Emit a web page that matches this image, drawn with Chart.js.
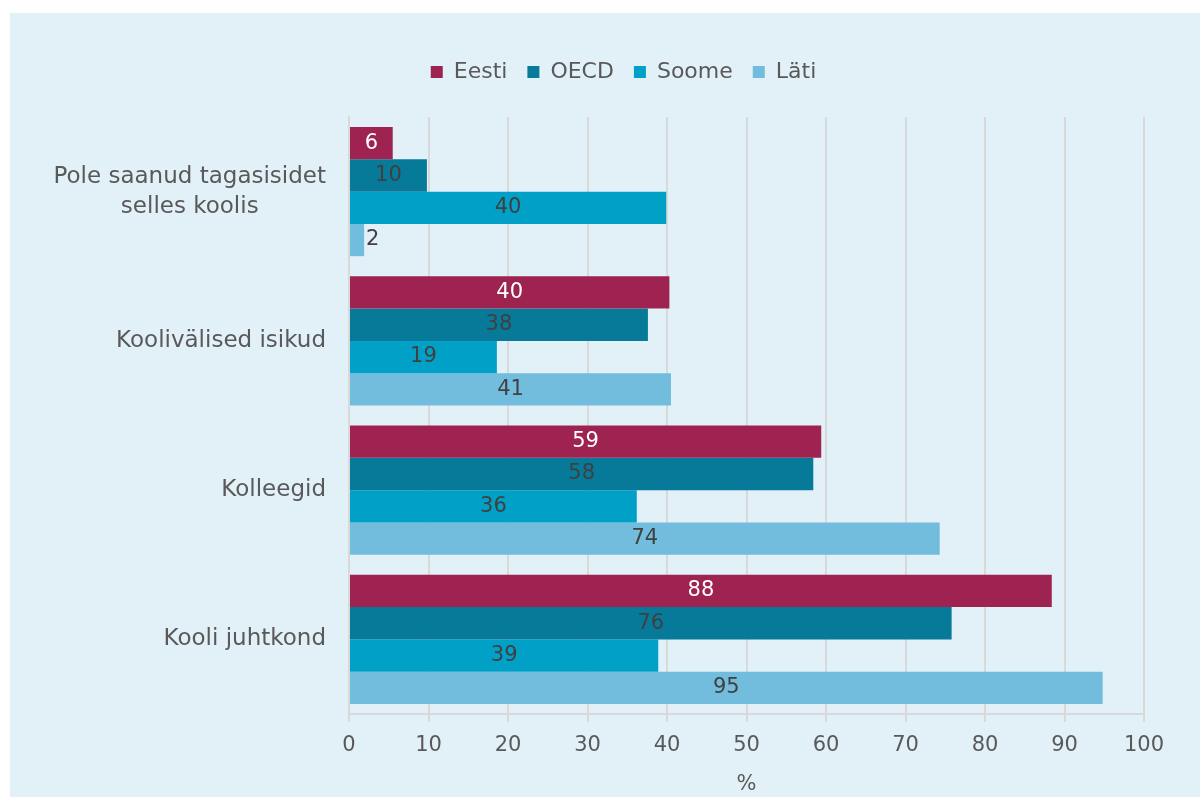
<!DOCTYPE html>
<html>
<head>
<meta charset="utf-8">
<script src="https://cdn.jsdelivr.net/npm/chart.js@4.4.1/dist/chart.umd.min.js"></script>
<style>
  html, body { margin: 0; padding: 0; background: #ffffff; }
  #panel {
    position: absolute;
    left: 10px;
    top: 13px;
    width: 1190px;
    height: 784px;
    background: #e2f0f8;
  }
</style>
</head>
<body>
<div id="panel"><canvas id="chart" width="1190" height="784"></canvas></div>
<script>
const categories = [
  ["Pole saanud tagasisidet", "selles koolis"],
  "Koolivälised isikud",
  "Kolleegid",
  "Kooli juhtkond",
];
const seriesNames = ["Eesti", "OECD", "Soome", "Läti"];
const eesti = [5.5, 40.3, 59.4, 88.4];
const oecd = [9.8, 37.6, 58.4, 75.8];
const soome = [39.9, 18.6, 36.2, 38.9];
const lati = [1.9, 40.5, 74.3, 94.8];
const xTickValues = [0, 10, 20, 30, 40, 50, 60, 70, 80, 90, 100];
const xTitle = "%";

const colors = ["#9f2350", "#077a9a", "#00a0c7", "#72bddd"];
const textColor = "#595959";
const gridColor = "#d9d9d9";
const fontFamily = "'DejaVu Sans', sans-serif";

Chart.defaults.font.family = fontFamily;
Chart.defaults.color = textColor;

// force the legend to a fixed height so the plot top lines up
const legendHeight = {
  id: "legendHeight",
  beforeInit(chart) {
    const fit = chart.legend.fit;
    chart.legend.fit = function () {
      fit.call(this);
      this.height = 76;
    };
  },
};

// category labels: block right aligned, lines centred on each other
const categoryLabels = {
  id: "categoryLabels",
  afterDraw(chart) {
    const scale = chart.scales.y;
    const ctx = chart.ctx;
    ctx.save();
    ctx.font = "23px " + fontFamily;
    ctx.fillStyle = textColor;
    ctx.textAlign = "center";
    ctx.textBaseline = "middle";
    const right = scale.right - 23;
    const lineHeight = 30;
    chart.data.labels.forEach((label, i) => {
      const lines = [].concat(label);
      const width = Math.max(...lines.map((l) => ctx.measureText(l).width));
      const cx = right - width / 2;
      const cy = scale.getPixelForTick(i);
      lines.forEach((line, j) => {
        ctx.fillText(line, cx, cy + (j - (lines.length - 1) / 2) * lineHeight);
      });
    });
    ctx.restore();
  },
};

const barValueLabels = {
  id: "barValueLabels",
  afterDatasetsDraw(chart) {
    const ctx = chart.ctx;
    ctx.save();
    ctx.font = "21px " + fontFamily;
    ctx.textBaseline = "middle";
    chart.data.datasets.forEach((ds, di) => {
      const meta = chart.getDatasetMeta(di);
      meta.data.forEach((bar, i) => {
        const text = String(Math.round(ds.data[i]));
        const w = ctx.measureText(text).width;
        const len = bar.x - bar.base;
        if (len >= w + 8) {
          ctx.textAlign = "center";
          ctx.fillStyle = di === 0 ? "#ffffff" : "#404040";
          ctx.fillText(text, (bar.x + bar.base) / 2, bar.y);
        } else {
          ctx.textAlign = "left";
          ctx.fillStyle = "#404040";
          ctx.fillText(text, bar.x + 2, bar.y);
        }
      });
    });
    ctx.restore();
  },
};

const seriesData = [eesti, oecd, soome, lati];

new Chart(document.getElementById("chart").getContext("2d"), {
  type: "bar",
  data: {
    labels: categories,
    datasets: seriesNames.map((name, i) => ({
      label: name,
      data: seriesData[i],
      backgroundColor: colors[i],
      borderWidth: 0,
      categoryPercentage: 0.865,
      barPercentage: 1,
    })),
  },
  options: {
    indexAxis: "y",
    responsive: false,
    animation: false,
    layout: { padding: { left: 93, top: 28, right: 56, bottom: 0 } },
    plugins: {
      legend: {
        position: "top",
        labels: {
          boxWidth: 12,
          boxHeight: 12,
          padding: 20,
          color: textColor,
          font: { size: 22 },
        },
      },
      tooltip: { enabled: false },
    },
    scales: {
      x: {
        min: 0,
        max: 100,
        afterBuildTicks(scale) {
          scale.ticks = xTickValues.map((v) => ({ value: v }));
        },
        afterFit(scale) {
          scale.height = 83;
        },
        grid: {
          color: gridColor,
          lineWidth: 2,
          tickLength: 8,
        },
        border: { display: true, color: gridColor, width: 2 },
        ticks: {
          color: textColor,
          padding: 11,
          font: { size: 21 },
        },
        title: {
          display: true,
          text: xTitle,
          color: textColor,
          font: { size: 21 },
          padding: { top: 0, bottom: 0 },
        },
      },
      y: {
        afterFit(scale) {
          scale.width = 246;
        },
        grid: { drawOnChartArea: false, drawTicks: false },
        border: { display: true, color: gridColor, width: 2 },
        ticks: { display: false },
      },
    },
  },
  plugins: [legendHeight, categoryLabels, barValueLabels],
});
</script>
</body>
</html>
